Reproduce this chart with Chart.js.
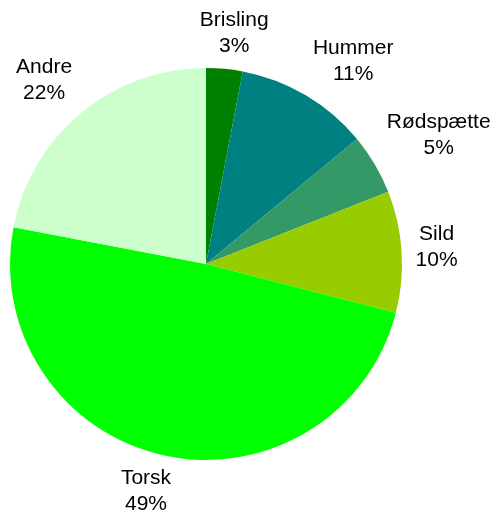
<!DOCTYPE html>
<html>
<head>
<meta charset="utf-8">
<script src="https://cdn.jsdelivr.net/npm/chart.js@4/dist/chart.umd.min.js"></script>
<style>
  html, body { margin: 0; padding: 0; background: #fff; }
  canvas { display: block; }
</style>
</head>
<body>
<canvas id="chart" width="492" height="517"></canvas>
<script>
const species = ["Brisling", "Hummer", "Rødspætte", "Sild", "Torsk", "Andre"];
const shares = [3, 11, 5, 10, 49, 22];
const colors = ["#008000", "#008080", "#339966", "#99CC00", "#00FF00", "#CCFFCC"];

const labelFont = '21px "Liberation Sans", Arial, sans-serif';
const lineGap = 26;

// name + percent outside each slice, pushed away from the edge
const outsideLabels = {
  id: 'outsideLabels',
  afterDatasetsDraw(chart){
    const ctx = chart.ctx;
    const meta = chart.getDatasetMeta(0);
    ctx.save();
    ctx.font = labelFont;
    ctx.fillStyle = '#000';
    ctx.textAlign = 'center';
    ctx.textBaseline = 'middle';
    meta.data.forEach((arc, i) => {
      const mid = (arc.startAngle + arc.endAngle) / 2;
      const ux = Math.cos(mid), uy = Math.sin(mid);
      const lines = [species[i], shares[i] + '%'];
      const hw = Math.max(...lines.map(t => ctx.measureText(t).width)) / 2;
      const hh = 22;
      const d = arc.outerRadius + 14;
      const ax = arc.x + ux * d, ay = arc.y + uy * d;
      const fx = Math.max(-1, Math.min(1, ux * 2.6));
      const fy = Math.max(-1, Math.min(1, uy * 2.6));
      const cx = ax + fx * hw, cy = ay + fy * hh;
      ctx.fillText(lines[0], cx, cy - lineGap / 2);
      ctx.fillText(lines[1], cx, cy + lineGap / 2);
    });
    ctx.restore();
  }
};

new Chart(document.getElementById("chart"), {
  type: 'pie',
  data: {
    labels: species,
    datasets: [{ data: shares, backgroundColor: colors, borderWidth: 0 }]
  },
  options: {
    responsive: false,
    animation: false,
    layout: { padding: { left: 10, right: 90, top: 68, bottom: 57 } },
    plugins: { legend: { display: false }, tooltip: { enabled: false } }
  },
  plugins: [outsideLabels]
});
</script>
</body>
</html>
